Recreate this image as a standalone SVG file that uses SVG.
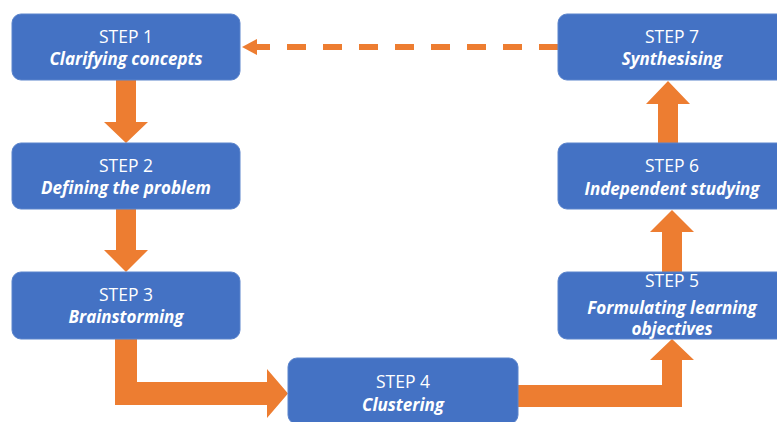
<svg xmlns="http://www.w3.org/2000/svg" width="777" height="422" viewBox="0 0 777 422">
<style>
.box{fill:#4472C4;stroke:#5b84cc;stroke-width:1}
.t{font-family:"Open Sans","Liberation Sans",sans-serif;font-size:17.5px;fill:#ffffff;text-anchor:middle}
.b{font-weight:bold;font-style:italic;font-size:17px}
.arr{fill:#ED7D31}
</style>
<rect width="777" height="422" fill="#ffffff"/>
<g id="connectors">
<polygon class="arr" points="116,80 136,80 136,122 148,122 126,143 104,122 116,122"/>
<polygon class="arr" points="116,209 136,209 136,250 148,250 126,272 104,250 116,250"/>
<polygon class="arr" points="115,339 137,339 137,382 267,382 267,369 288,393.5 267,418 267,405 115,405"/>
<polygon class="arr" points="518,385 662,385 662,360 650,360 672,339 694,360 682,360 682,407 518,407"/>
<polygon class="arr" points="662,272 682,272 682,232 694,232 672,210 650,232 662,232"/>
<polygon class="arr" points="658,143 678,143 678,104 690,104 668,81 646,104 658,104"/>
<line x1="558" y1="47" x2="251" y2="47" stroke="#ED7D31" stroke-width="6" stroke-dasharray="19 17"/>
<polygon class="arr" points="257,39 242,47 257,55"/>
</g>
<g id="step1">
<rect class="box" x="12" y="14" width="228" height="66" rx="9"/>
<text class="t" x="126" y="43">STEP 1</text>
<text class="t b" x="126" y="65">Clarifying concepts</text>
</g>
<g id="step2">
<rect class="box" x="12" y="143" width="228" height="66" rx="9"/>
<text class="t" x="126" y="172">STEP 2</text>
<text class="t b" x="126" y="194">Defining the problem</text>
</g>
<g id="step3">
<rect class="box" x="12" y="272" width="228" height="67" rx="9"/>
<text class="t" x="126" y="301">STEP 3</text>
<text class="t b" x="126" y="323">Brainstorming</text>
</g>
<g id="step4">
<rect class="box" x="288" y="358" width="230" height="66" rx="9"/>
<text class="t" x="403" y="388">STEP 4</text>
<text class="t b" x="403" y="411">Clustering</text>
</g>
<g id="step5">
<rect class="box" x="558" y="272" width="228" height="67" rx="9"/>
<text class="t" x="672" y="287">STEP 5</text>
<text class="t b" x="672" y="314">Formulating learning</text>
<text class="t b" x="672" y="335">objectives</text>
</g>
<g id="step6">
<rect class="box" x="558" y="143" width="228" height="66" rx="9"/>
<text class="t" x="672" y="172">STEP 6</text>
<text class="t b" x="672" y="195">Independent studying</text>
</g>
<g id="step7">
<rect class="box" x="558" y="14" width="228" height="66" rx="9"/>
<text class="t" x="672" y="43">STEP 7</text>
<text class="t b" x="672" y="65">Synthesising</text>
</g>
</svg>
